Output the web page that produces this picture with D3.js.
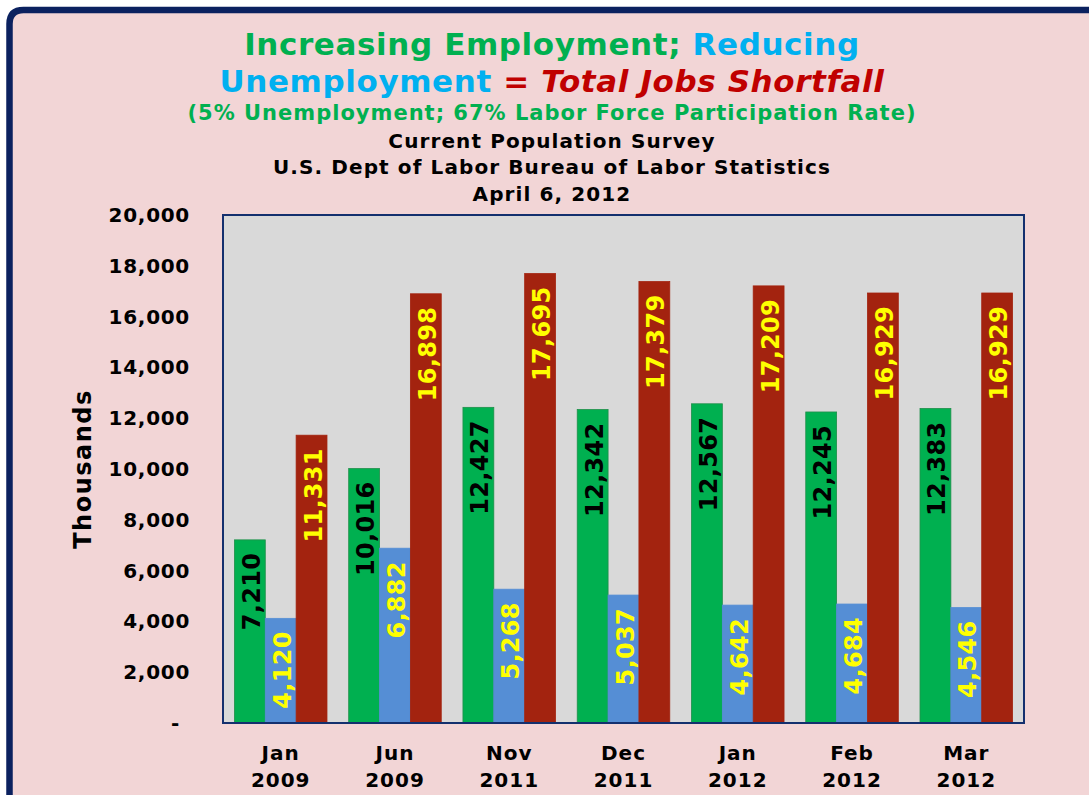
<!DOCTYPE html>
<html><head><meta charset="utf-8">
<script src="https://cdn.jsdelivr.net/npm/d3@7"></script>
<style>
html,body{margin:0;padding:0;background:#fff;}
svg{display:block;}
text{font-family:"DejaVu Sans",Verdana,sans-serif;font-weight:bold;}
</style></head>
<body>
<svg id="chart" width="1089" height="795"></svg>
<script>
const categories = [["Jan","2009"],["Jun","2009"],["Nov","2011"],["Dec","2011"],["Jan","2012"],["Feb","2012"],["Mar","2012"]];
const employment = [7210, 10016, 12427, 12342, 12567, 12245, 12383];
const unemployment = [4120, 6882, 5268, 5037, 4642, 4684, 4546];
const shortfall = [11331, 16898, 17695, 17379, 17209, 16929, 16929];
const yTicks = [0, 2000, 4000, 6000, 8000, 10000, 12000, 14000, 16000, 18000, 20000];
const seriesNames = ["employment", "unemployment", "shortfall"];

const W = 1089, H = 795;
const svg = d3.select("#chart");
const plot = {left: 223, right: 1024, top: 215, bottom: 723};

// background
svg.append("rect").attr("width", W).attr("height", H).attr("fill", "#fff");
svg.append("path")
  .attr("d", `M9.5,${H+5} L9.5,24 Q9.5,10 23.5,10 L${W+5},10 L${W+5},${H+5} Z`)
  .attr("fill", "#f2d5d6").attr("stroke", "#0b215f").attr("stroke-width", 6.5);

// title
const cx = 552;
const t1 = svg.append("text").attr("x", cx).attr("y", 55).attr("text-anchor", "middle")
  .style("font-size", "31px").style("letter-spacing", "0.6px");
t1.append("tspan").attr("fill", "#00b050").text("Increasing Employment; ");
t1.append("tspan").attr("fill", "#00b0f0").text("Reducing");
const t2 = svg.append("text").attr("x", cx).attr("y", 92).attr("text-anchor", "middle")
  .style("font-size", "31px").style("letter-spacing", "0.6px");
t2.append("tspan").attr("fill", "#00b0f0").text("Unemployment ");
t2.append("tspan").attr("fill", "#c00000").text("= ");
t2.append("tspan").attr("fill", "#c00000").attr("font-style", "italic").text("Total Jobs Shortfall");
svg.append("text").attr("x", cx).attr("y", 120).attr("text-anchor", "middle")
  .style("font-size", "21px").style("letter-spacing", "1px")
  .attr("fill", "#00b050").text("(5% Unemployment; 67% Labor Force Participation Rate)");
[["Current Population Survey", 148], ["U.S. Dept of Labor Bureau of Labor Statistics", 174], ["April 6, 2012", 201]]
  .forEach(([s, yy]) => svg.append("text").attr("x", cx).attr("y", yy).attr("text-anchor", "middle")
    .style("font-size", "20px").style("letter-spacing", "1.1px").attr("fill", "#000").text(s));

// scales
const x0 = d3.scaleBand().domain(d3.range(categories.length)).range([plot.left, plot.right]).paddingInner(0.19).paddingOuter(0.1);
const x1 = d3.scaleBand().domain(seriesNames).range([0, x0.bandwidth()]);
const y = d3.scaleLinear().domain([0, 20000]).range([plot.bottom, plot.top]);

svg.append("rect").attr("x", plot.left).attr("y", plot.top)
  .attr("width", plot.right - plot.left).attr("height", plot.bottom - plot.top)
  .attr("fill", "#d9d9d9");

const colors = {employment: "#00b050", unemployment: "#558ed5", shortfall: "#a3230f"};
const strokes = {employment: "#1f8f4a", unemployment: "#558ed5", shortfall: "#a3230f"};
const labelColors = {employment: "#000", unemployment: "#ffff00", shortfall: "#ffff00"};
const data = {employment, unemployment, shortfall};
const fmt = d3.format(",");

seriesNames.forEach(s => {
  const g = svg.append("g");
  g.selectAll("rect").data(data[s]).join("rect")
    .attr("x", (d, i) => x0(i) + x1(s))
    .attr("y", d => y(d))
    .attr("width", x1.bandwidth())
    .attr("height", d => y(0) - y(d))
    .attr("fill", colors[s]).attr("stroke", strokes[s]).attr("stroke-width", 0.8);
  g.selectAll("text").data(data[s]).join("text")
    .attr("transform", (d, i) => `translate(${x0(i) + x1(s) + x1.bandwidth() / 2 + 10},${y(d) + 13}) rotate(-90)`)
    .attr("text-anchor", "end")
    .style("font-size", "24px").style("letter-spacing", "0.3px")
    .attr("fill", labelColors[s])
    .text(d => fmt(d));
});

// plot border
svg.append("rect").attr("x", plot.left).attr("y", plot.top)
  .attr("width", plot.right - plot.left).attr("height", plot.bottom - plot.top)
  .attr("fill", "none").attr("stroke", "#14306e").attr("stroke-width", 2);

// y axis
const yAxis = d3.axisLeft(y).tickValues(yTicks).tickSize(0).tickPadding(33)
  .tickFormat(d => d === 0 ? "-" : fmt(d));
const ya = svg.append("g").attr("transform", `translate(${plot.left},0)`).call(yAxis);
ya.select(".domain").remove();
ya.selectAll("text").style("font-size", "20px").style("letter-spacing", "0.7px")
  .style("font-family", '"DejaVu Sans",Verdana,sans-serif').attr("fill", "#000")
  .attr("dx", d => d === 0 ? -10 : 0);

svg.append("text").attr("transform", `translate(91,${(plot.top + plot.bottom) / 2}) rotate(-90)`)
  .attr("text-anchor", "middle").style("font-size", "24px").style("letter-spacing", "1.5px")
  .attr("fill", "#000").text("Thousands");

// x axis
const xAxis = d3.axisBottom(x0).tickSize(0).tickFormat(() => "");
const xa = svg.append("g").attr("transform", `translate(0,${plot.bottom})`).call(xAxis);
xa.select(".domain").remove();
xa.selectAll(".tick").each(function(i) {
  const t = d3.select(this).append("text").attr("text-anchor", "middle").attr("fill", "#000")
    .style("font-size", "20px").style("letter-spacing", "1px");
  t.append("tspan").attr("x", 0).attr("y", 37).text(categories[i][0]);
  t.append("tspan").attr("x", 0).attr("y", 64).text(categories[i][1]);
});
</script>
</body></html>
